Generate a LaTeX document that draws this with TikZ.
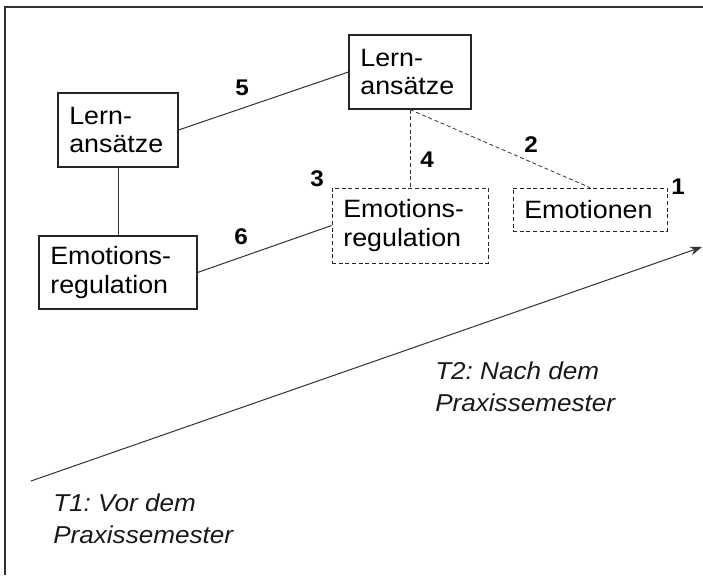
\documentclass[tikz,border=0pt]{standalone}
\usepackage{fontspec}
\setmainfont[FakeStretch=1.07]{Liberation Sans}
\usetikzlibrary{arrows.meta}
\frenchspacing
\tikzset{
  box/.style={draw=black!85, line width=0.8pt, inner xsep=8.5pt, inner ysep=0pt, align=left, anchor=center,
    font=\fontsize{18.8}{21.5}\selectfont},
  dbox/.style={box, dash pattern=on 3pt off 2pt, line width=0.6pt},
  link/.style={draw=black!80, line width=0.75pt},
  dlink/.style={link, dash pattern=on 3pt off 2pt, line width=0.6pt},
  num/.style={font=\fontsize{17}{19}\selectfont\bfseries, inner sep=0pt},
  lbl/.style={font=\fontsize{18.3}{23.5}\selectfont\itshape, align=left, anchor=north west, inner sep=0pt, text=black!90},
}
\begin{document}
\begin{tikzpicture}[x=0.75pt,y=-0.75pt]
\useasboundingbox (0,0) rectangle (703,575);
\fill[white] (0,0) rectangle (703,575);
\draw[black!80, line width=1.1pt] (5,575) -- (5,7) -- (703,7);

\node[box, minimum width=122*0.75pt, minimum height=74*0.75pt, text width=122*0.75pt-17pt] (lernT) at (410,72) {Lern-\\ansätze};
\node[box, minimum width=120*0.75pt, minimum height=74*0.75pt, text width=120*0.75pt-17pt] (lernL) at (118,130) {Lern-\\ansätze};
\node[box, minimum width=158*0.75pt, minimum height=73*0.75pt, text width=158*0.75pt-17pt] (emoL) at (118,272.5) {Emotions-\\regulation};
\node[dbox, minimum width=156*0.75pt, minimum height=75*0.75pt, text width=156*0.75pt-17pt] (emoR) at (410,225.5) {Emotions-\\regulation};
\node[dbox, minimum width=154*0.75pt, minimum height=43*0.75pt, text width=154*0.75pt-17pt] (emo) at (590,209.5) {Emotionen};

\draw[link] (lernL.east) -- (lernT.west);
\draw[link] (emoL.east) -- (emoR.west);
\draw[link] (lernL.south) -- (emoL.north);
\draw[dlink] (lernT.south) -- (emoR.north);
\draw[dlink] (lernT.south) -- (emo.north);

\node[num] (n5) at (242,88) {5};
\node[num] (n6) at (241,237) {6};
\node[num] (n3) at (317,179) {3};
\node[num] (n4) at (427,160) {4};
\node[num] (n2) at (531,145) {2};
\node[num] (n1) at (678,187) {1};

\coordinate (a0) at (31,481);
\coordinate (a1) at (702,247);
\draw[link, -{Stealth[length=9pt,width=6.5pt]}] (a0) -- (a1);

\node[lbl] (t2) at (435,362) {T2: Nach dem\\Praxissemester};
\node[lbl] (t1) at (53,494) {T1: Vor dem\\Praxissemester};
\end{tikzpicture}
\end{document}
